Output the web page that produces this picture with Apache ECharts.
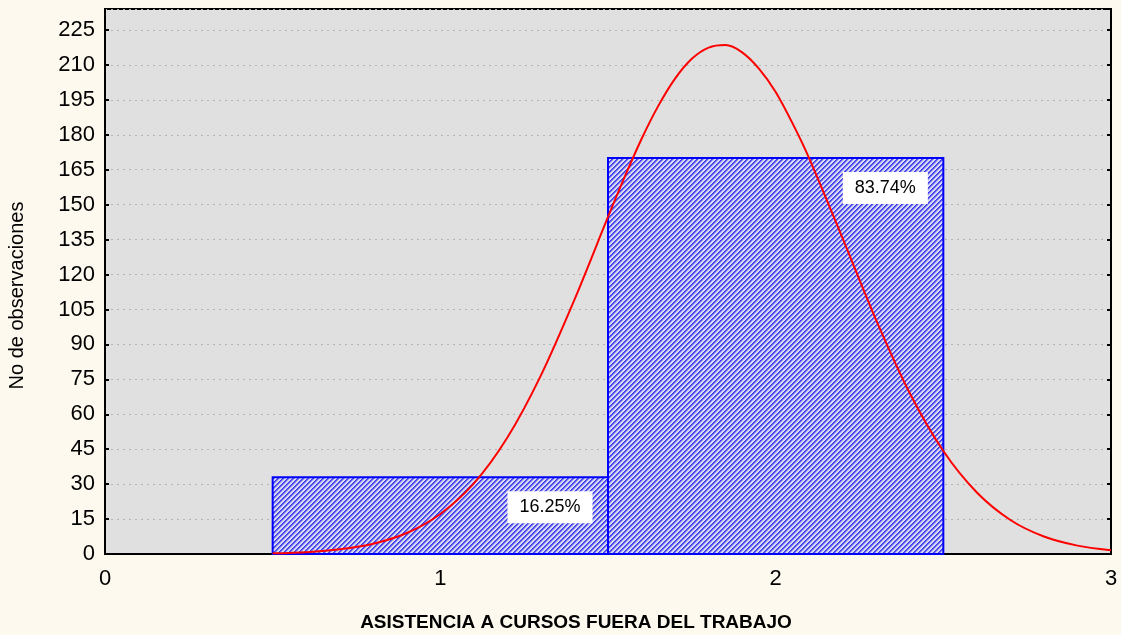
<!DOCTYPE html>
<html>
<head>
<meta charset="utf-8">
<script src="https://cdn.jsdelivr.net/npm/echarts@6/dist/echarts.min.js"></script>
<style>
  html, body { margin: 0; padding: 0; background: #fdf9ef; }
  #chart { width: 1121px; height: 635px; }
</style>
</head>
<body>
<div id="chart"></div>
<script>
// histogram bins
var binStart = [0.5, 1.5];
var binEnd = [1.5, 2.5];
var counts = [33, 170];
var pctLabels = ['16.25%', '83.74%'];

// fitted normal curve
var curveX = [0.5, 0.6, 0.7, 0.8, 0.9, 1.0, 1.1, 1.2, 1.3, 1.4, 1.5, 1.55, 1.6, 1.65, 1.7, 1.75, 1.8, 1.85,
              1.9, 1.95, 2.0, 2.05, 2.1, 2.2, 2.3, 2.4, 2.5, 2.6, 2.7, 2.8, 2.9, 3.0];
var curveY = [0.3, 0.8, 2.0, 4.4, 9.0, 17.2, 30.3, 50.0, 76.7, 109.2, 144.7, 162.0, 178.2, 192.4, 204.1,
              212.6, 217.4, 218.5, 215.4, 208.4, 198.4, 185.0, 169.9, 135.4, 100.3, 69.0, 44.2, 26.4,
              14.6, 7.5, 3.6, 1.6];

var xTicks = [0, 1, 2, 3];
var yMax = 234;
var yStep = 15;

// hatch pattern for the bars
var hatchColors = ['#3a3af0', '#5a5af0', '#a4a4f0', '#dadaf0', '#dadaf0'];
var hatch = document.createElement('canvas');
hatch.width = 5;
hatch.height = 5;
var hctx = hatch.getContext('2d');
for (var i = 0; i < 5; i++) {
    for (var j = 0; j < 5; j++) {
        hctx.fillStyle = hatchColors[(i + j) % 5];
        hctx.fillRect(i, j, 1, 1);
    }
}

var binData = binStart.map(function (s, i) {
    return [s, binEnd[i], counts[i], pctLabels[i]];
});
var curveData = curveX.map(function (x, i) {
    return [x, curveY[i]];
});

var chart = echarts.init(document.getElementById('chart'));
var option = {
    backgroundColor: '#fdf9ef',
    animation: false,
    grid: {
        left: 105, right: 10, top: 9, bottom: 81,
        outerBoundsMode: 'none', containLabel: false,
        show: true, backgroundColor: '#e0e0e0', borderColor: '#000', borderWidth: 2
    },
    xAxis: {
        type: 'value', min: xTicks[0], max: xTicks[xTicks.length - 1], interval: 1,
        name: 'ASISTENCIA A CURSOS FUERA DEL TRABAJO',
        nameLocation: 'middle', nameGap: 59,
        nameTextStyle: {fontFamily: 'Liberation Sans', fontSize: 19, fontWeight: 'bold', color: '#000', padding: [0, 64, 0, 0]},
        axisLine: {lineStyle: {color: '#000', width: 2}},
        axisTick: {show: false},
        axisLabel: {fontFamily: 'Liberation Sans', fontSize: 22, color: '#000', margin: 14},
        splitLine: {show: false}
    },
    yAxis: [{
        type: 'value', min: 0, max: yMax, interval: yStep,
        name: 'No de observaciones',
        nameLocation: 'middle', nameGap: 78,
        nameTextStyle: {fontFamily: 'Liberation Sans', fontSize: 20, color: '#000', padding: [0, 28, 0, 0]},
        axisLine: {show: true, lineStyle: {color: '#000', width: 2}},
        axisTick: {show: true, inside: true, length: 4, lineStyle: {color: '#000', width: 2}},
        axisLabel: {fontFamily: 'Liberation Sans', fontSize: 22, color: '#000', margin: 10, showMaxLabel: false},
        splitLine: {show: true, lineStyle: {color: '#b4b4b4', type: [2, 4], width: 1}}
    }, {
        type: 'value', min: 0, max: yMax, interval: yStep, position: 'right',
        axisLine: {show: true, lineStyle: {color: '#000', width: 2}},
        axisTick: {show: true, inside: true, length: 4, lineStyle: {color: '#000', width: 2}},
        axisLabel: {show: false},
        splitLine: {show: false}
    }],
    series: [{
        type: 'custom',
        z: 2,
        data: binData,
        renderItem: function (params, api) {
            var p0 = api.coord([api.value(0), api.value(2)]);
            var p1 = api.coord([api.value(1), 0]);
            return {
                type: 'rect',
                shape: {x: p0[0], y: p0[1], width: p1[0] - p0[0], height: p1[1] - p0[1]},
                style: {fill: {image: hatch, repeat: 'repeat'}, stroke: '#0000ff', lineWidth: 2}
            };
        }
    }, {
        type: 'line',
        z: 3,
        data: curveData,
        smooth: 0.3,
        symbol: 'none',
        lineStyle: {color: '#ff0000', width: 2}
    }, {
        type: 'custom',
        z: 4,
        data: binData,
        renderItem: function (params, api) {
            var p = api.coord([api.value(1), api.value(2)]);
            return {
                type: 'text',
                x: p[0] - 58,
                y: p[1] + 30,
                style: {
                    text: binData[params.dataIndex][3],
                    fill: '#000',
                    font: '18px "Liberation Sans"',
                    align: 'center',
                    verticalAlign: 'middle',
                    backgroundColor: '#fff',
                    padding: [7, 12, 7, 12]
                }
            };
        }
    }]
};
chart.setOption(option);
</script>
</body>
</html>
